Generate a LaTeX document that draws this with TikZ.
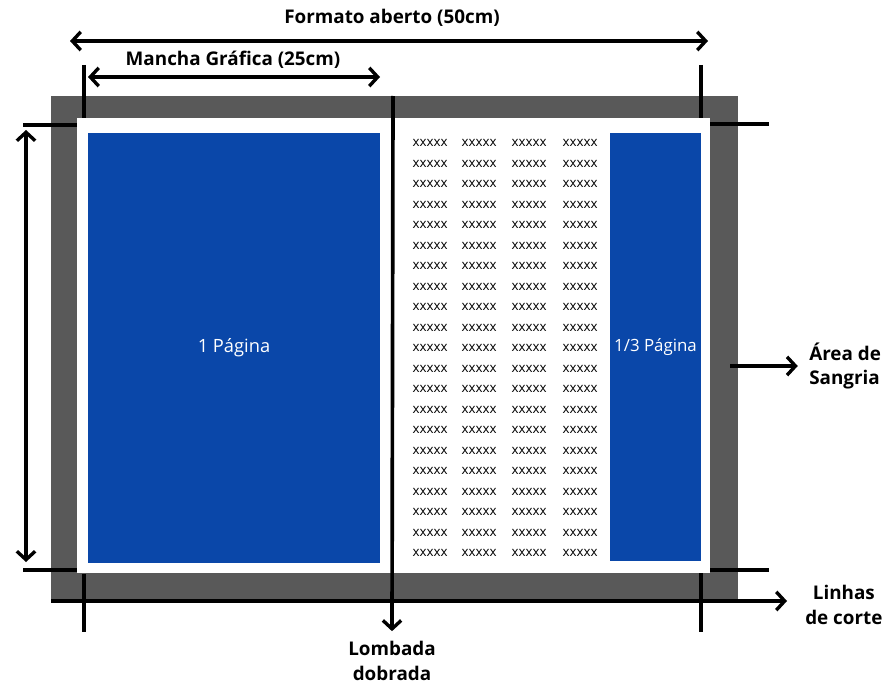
\documentclass[tikz,border=0pt]{standalone}
\usepackage{fontspec}
\setmainfont{Open Sans}
\usetikzlibrary{arrows.meta,positioning}
\definecolor{pageblue}{HTML}{0A47A9}
\definecolor{bleedgray}{HTML}{595959}

\begin{document}
\begin{tikzpicture}[
  x=0.025cm, y=-0.025cm,
  tip/.tip={Straight Barb[length=6pt,width=13pt,line width=2.4pt]},
  dim/.style={tip-tip, line width=2.6pt},
  pointer/.style={-tip, line width=2.6pt},
  cropmark/.style={line width=2.6pt},
  callout/.style={font=\bfseries\fontsize{13.4}{17.7}\selectfont, inner sep=0pt},
  adblock/.style={fill=pageblue, inner sep=0pt, text=white},
  filler/.style={font=\fontsize{9.5}{10}\selectfont, inner sep=0pt, text=black}
]
\useasboundingbox (0,0) rectangle (882,683);

% bleed and trimmed page
\fill[bleedgray] (51,96) rectangle (738,601);
\fill[white] (77,118) rectangle (710,573);

% ads
\node[adblock, minimum width=7.3cm, minimum height=10.75cm, font=\fontsize{13}{15}\selectfont] (fullpage) at (234,348) {1 Página};
\node[adblock, minimum width=2.275cm, minimum height=10.7cm, font=\fontsize{12}{14}\selectfont] (thirdpage) at (655.5,347) {1/3 Página};

% text columns
\foreach \r in {0,...,20}
  \foreach \c in {430,479,529,580}
    \node[filler] (cell-\r-\c) at (\c,143+20.5*\r) {xxxxx};

% crop marks
\draw[cropmark] (84,65) -- (84,118);
\draw[cropmark] (23,125) -- (77,125);
\draw[cropmark] (701,65) -- (701,118);
\draw[cropmark] (710,124) -- (769,124);
\draw[cropmark] (23,570) -- (77,570);
\draw[cropmark] (84,574) -- (84,632);
\draw[cropmark] (710,570) -- (769,570);
\draw[cropmark] (701,573) -- (701,632);

% dimensions
\coordinate (openL) at (70,41);
\coordinate (openR) at (708,41);
\draw[dim] (openL) -- (openR);
\node[callout] (openlabel) at (392,18) {Formato aberto (50cm)};

\coordinate (mgL) at (88,77);
\coordinate (mgR) at (380,77);
\draw[dim] (mgL) -- (mgR);
\node[callout] (mglabel) at (233,60) {Mancha Gráfica (25cm)};

\coordinate (heightT) at (26,130);
\coordinate (heightB) at (26,562);
\draw[dim] (heightT) -- (heightB);

% spine
\coordinate (spinetop) at (393,96);
\node[callout, align=center, anchor=north] (spinelabel) at (392,641) {Lombada\\dobrada};
\draw[pointer] (spinetop) -- ([yshift=7pt]spinelabel.north);

% bleed pointer
\coordinate (bleedstart) at (730,366);
\node[callout, align=left, anchor=west] (bleedlabel) at (809,366) {Área de\\Sangria};
\draw[pointer] (bleedstart) -- ([xshift=-8pt]bleedlabel.west);

% cut lines pointer
\coordinate (cutstart) at (51,601);
\node[callout, align=center, anchor=west] (cutlabel) at (805,605) {Linhas\\de corte};
\draw[pointer] (cutstart) -- (787,601);
\end{tikzpicture}
\end{document}
